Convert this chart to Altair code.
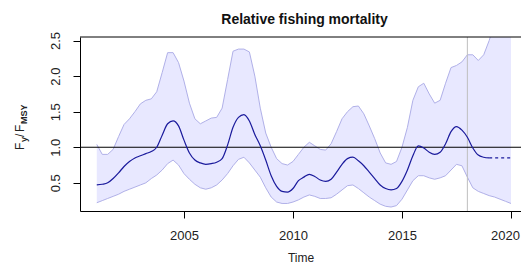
import altair as alt
import pandas as pd

years = [2001 + 0.25 * i for i in range(77)]

median = [0.47, 0.48, 0.50, 0.56, 0.64, 0.73, 0.80, 0.85, 0.88, 0.91, 0.94, 1.00,
          1.17, 1.33, 1.37, 1.30, 1.10, 0.92, 0.82, 0.78, 0.76, 0.77, 0.79, 0.84,
          1.03, 1.28, 1.42, 1.46, 1.37, 1.18, 1.02, 0.82, 0.60, 0.45, 0.38, 0.37,
          0.42, 0.53, 0.58, 0.62, 0.59, 0.54, 0.52, 0.55, 0.65, 0.76, 0.84, 0.86,
          0.81, 0.74, 0.65, 0.56, 0.47, 0.42, 0.40, 0.42, 0.52, 0.68, 0.88, 1.02,
          0.99, 0.93, 0.90, 0.93, 1.05, 1.22, 1.29, 1.24, 1.14, 0.99, 0.89, 0.86,
          0.85, 0.85, 0.85, 0.85, 0.85]

upper = [1.04, 0.90, 0.90, 0.97, 1.15, 1.32, 1.40, 1.50, 1.61, 1.66, 1.68, 1.78,
         2.05, 2.33, 2.33, 2.19, 1.93, 1.62, 1.40, 1.33, 1.37, 1.41, 1.42, 1.55,
         1.95, 2.35, 2.38, 2.38, 2.34, 2.00, 1.55, 1.20, 1.00, 0.84, 0.77, 0.75,
         0.80, 0.90, 1.00, 1.07, 1.02, 0.97, 0.96, 1.05, 1.22, 1.40, 1.50, 1.57,
         1.58, 1.47, 1.30, 1.12, 0.92, 0.78, 0.76, 0.80, 1.00, 1.28, 1.66, 1.85,
         1.90, 1.75, 1.62, 1.66, 1.90, 2.12, 2.15, 2.20, 2.30, 2.30, 2.22, 2.30,
         2.50, 2.75, 3.00, 3.20, 3.40]

lower = [0.22, 0.25, 0.28, 0.31, 0.34, 0.38, 0.41, 0.44, 0.47, 0.50, 0.56, 0.61,
         0.68, 0.77, 0.82, 0.75, 0.63, 0.55, 0.48, 0.43, 0.41, 0.43, 0.47, 0.54,
         0.63, 0.74, 0.83, 0.86, 0.78, 0.68, 0.58, 0.43, 0.30, 0.23, 0.21, 0.21,
         0.23, 0.26, 0.30, 0.33, 0.31, 0.28, 0.28, 0.29, 0.34, 0.40, 0.46, 0.47,
         0.42, 0.36, 0.30, 0.25, 0.20, 0.17, 0.16, 0.18, 0.27, 0.40, 0.53, 0.60,
         0.60, 0.57, 0.55, 0.57, 0.60, 0.68, 0.76, 0.74, 0.58, 0.43, 0.38, 0.35,
         0.32, 0.30, 0.27, 0.24, 0.21]

x_ticks = [2005, 2010, 2015, 2020]
y_ticks = [0.5, 1.0, 1.5, 2.0, 2.5]
ref_year = [2018]
ref_level = [1.0]

df = pd.DataFrame({"year": years, "median": median, "upper": upper, "lower": lower})
df_solid = df[df["year"] <= 2019.0]
df_dash = df[df["year"] >= 2019.0]

FONT = "Liberation Sans"
W, H = 441, 174

xs = alt.Scale(domain=[2000.23, 2020.46], nice=False, zero=False)
ys = alt.Scale(domain=[0.104, 2.55], nice=False, zero=False)

xaxis = alt.Axis(values=x_ticks, format="d", title="Time", grid=False,
                 tickSize=7, tickColor="black", domainColor="black",
                 labelFontSize=13, labelPadding=11, labelColor="#222",
                 labelOffset={"condition": {"test": "datum.value >= 2020", "value": -6},
                              "value": 0},
                 titleFontSize=12, titleFontWeight="normal", titlePadding=10,
                 titleColor="#222", labelFont=FONT, titleFont=FONT, labelFlush=False)
yaxis = alt.Axis(values=y_ticks, format=".1f", title=None, grid=False,
                 tickSize=7, tickColor="black", domainColor="black",
                 labelFontSize=13, labelAngle=270, labelAlign="center",
                 labelBaseline="bottom", labelPadding=11, labelColor="#222",
                 labelFont=FONT)

base = alt.Chart(df)

band = base.mark_area(color="#E8E8FF", opacity=1, clip=True).encode(
    x=alt.X("year:Q", scale=xs, axis=xaxis),
    y=alt.Y("upper:Q", scale=ys, axis=yaxis),
    y2="lower:Q",
)
up_line = base.mark_line(color="#B0B0E8", strokeWidth=1, clip=True).encode(
    x=alt.X("year:Q", scale=xs), y=alt.Y("upper:Q", scale=ys))
lo_line = base.mark_line(color="#B0B0E8", strokeWidth=1, clip=True).encode(
    x=alt.X("year:Q", scale=xs), y=alt.Y("lower:Q", scale=ys))

vline = alt.Chart(pd.DataFrame({"year": ref_year})).mark_rule(
    color="#BEBEBE", strokeWidth=1).encode(x=alt.X("year:Q", scale=xs))
hline = alt.Chart(pd.DataFrame({"level": ref_level})).mark_rule(
    color="black", strokeWidth=1.2).encode(y=alt.Y("level:Q", scale=ys))

med_solid = alt.Chart(df_solid).mark_line(color="#1A1A9C", strokeWidth=1.2,
                                           interpolate="monotone").encode(
    x=alt.X("year:Q", scale=xs), y=alt.Y("median:Q", scale=ys))
med_dash = alt.Chart(df_dash).mark_line(color="#1A1A9C", strokeWidth=1.2,
                                         strokeDash=[3, 3]).encode(
    x=alt.X("year:Q", scale=xs), y=alt.Y("median:Q", scale=ys))

top_border = alt.Chart(pd.DataFrame({"a": [0]})).mark_rule(
    color="black", strokeWidth=1).encode(y=alt.value(0))

# y-axis title with subscripts, built from rotated text pieces
lab = pd.DataFrame({"a": [0]})
def piece(txt, x, y, size, weight="normal"):
    return alt.Chart(lab).mark_text(text=txt, angle=270, fontSize=size, font=FONT,
                                    fontWeight=weight, color="#222",
                                    align="left", baseline="middle").encode(
        x=alt.value(x), y=alt.value(y))

ylab = (piece("F", -60, 113, 12) + piece("y", -56, 105, 9, "bold") +
        piece("/", -60, 100, 12) + piece("F", -60, 95, 12) +
        piece("MSY", -56, 87, 9, "bold"))

chart = alt.layer(band, up_line, lo_line, vline, hline, med_solid, med_dash,
                  top_border, ylab).properties(
    width=W, height=H,
    title=alt.TitleParams("Relative fishing mortality", fontSize=14, font=FONT,
                          fontWeight="bold", color="#111", anchor="middle",
                          offset=5, dx=4),
    autosize=alt.AutoSizeParams(type="none"),
    padding={"left": 72, "top": 29, "right": 0, "bottom": 54},
).configure_view(stroke=None)

chart.save("out.html", embed_options={"renderer": "svg", "actions": False})
